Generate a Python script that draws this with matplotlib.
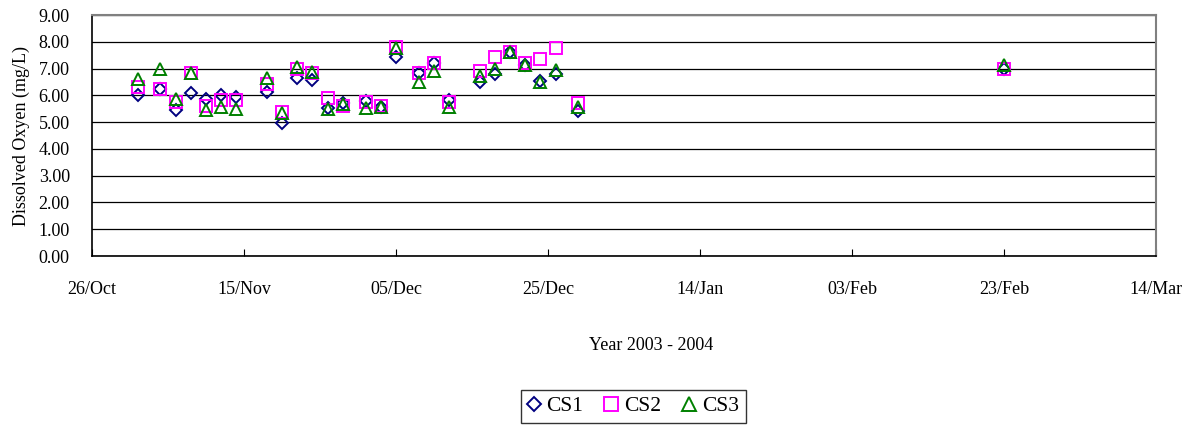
import numpy as np
import matplotlib
matplotlib.use("Agg")
import matplotlib.pyplot as plt
import matplotlib.dates as mdates
from datetime import datetime, timedelta

plt.rcParams['font.family'] = ['Liberation Serif', 'DejaVu Serif']

# sampling dates (2003 - 2004)
dates = ["2003-11-01", "2003-11-04", "2003-11-06", "2003-11-08", "2003-11-10",
         "2003-11-12", "2003-11-14", "2003-11-18", "2003-11-20", "2003-11-22",
         "2003-11-24", "2003-11-26", "2003-11-28", "2003-12-01", "2003-12-03",
         "2003-12-05", "2003-12-08", "2003-12-10", "2003-12-12", "2003-12-16",
         "2003-12-18", "2003-12-20", "2003-12-22", "2003-12-24", "2003-12-26",
         "2003-12-29", "2004-02-23"]

cs1 = [6.00, 6.22, 5.47, 6.08, 5.86, 6.01, 5.95, 6.12, 4.97, 6.65, 6.58, 5.51,
       5.70, 5.80, 5.57, 7.45, 6.85, 7.22, 5.82, 6.48, 6.78, 7.63, 7.13, 6.55,
       6.80, 5.43, 6.97]
cs2 = [6.32, 6.22, 5.76, 6.85, 5.62, 5.82, 5.82, 6.42, 5.37, 6.98, 6.85, 5.89,
       5.62, 5.75, 5.60, 7.82, 6.85, 7.22, 5.76, 6.92, 7.44, 7.63, 7.19, 7.34,
       7.76, 5.70, 7.00]
cs3 = [6.60, 6.98, 5.85, 6.85, 5.45, 5.57, 5.48, 6.63, 5.35, 7.05, 6.88, 5.50,
       5.67, 5.52, 5.55, 7.75, 6.50, 6.92, 5.57, 6.72, 7.00, 7.60, 7.13, 6.50,
       6.95, 5.55, 7.15]

x = [datetime.strptime(d, "%Y-%m-%d") for d in dates]

fig = plt.figure(figsize=(11.97, 4.25), dpi=100)
ax = fig.add_axes([0.0769, 0.3976, 0.8888, 0.5671])

ax.plot(x, cs1, linestyle='none', marker='D', markersize=6.5, mfc='none',
        mec='#000080', mew=1.4, label='CS1', zorder=3)
ax.plot(x, cs2, linestyle='none', marker='s', markersize=9, mfc='none',
        mec='#FF00FF', mew=1.4, label='CS2', zorder=3)
ax.plot(x, cs3, linestyle='none', marker='^', markersize=9, mfc='none',
        mec='#008000', mew=1.4, label='CS3', zorder=4)

start = datetime(2003, 10, 26)
ax.set_xlim(start, datetime(2004, 3, 14))
ax.set_xticks([start + timedelta(days=20 * i) for i in range(8)])
ax.xaxis.set_major_formatter(mdates.DateFormatter('%d/%b'))
ax.set_ylim(0, 9)
ax.set_yticks(np.arange(0, 9.01, 1))
ax.set_yticklabels(['%.2f' % v for v in np.arange(0, 9.01, 1)])

ax.yaxis.grid(True, color='black', linewidth=0.9)
ax.set_axisbelow(True)
for s in ['top', 'right']:
    ax.spines[s].set_color('#808080')
    ax.spines[s].set_linewidth(1.5)
for s in ['left', 'bottom']:
    ax.spines[s].set_color('black')
    ax.spines[s].set_linewidth(1.2)

ax.tick_params(axis='x', direction='in', length=5, pad=18, labelsize=13)
ax.tick_params(axis='y', direction='out', length=0, pad=16, labelsize=13)

ax.set_ylabel('Dissolved Oxyen (mg/L)', fontsize=13, labelpad=6)
fig.text(0.544, 0.187, 'Year 2003 - 2004', ha='center', va='center', fontsize=13)

fig.legend(loc='center', bbox_to_anchor=(0.529, 0.044), ncol=3, fontsize=15.5,
           frameon=True, fancybox=False, edgecolor='black', handlelength=0.6,
           handletextpad=0.3, columnspacing=1.0, borderpad=0.3,
           markerscale=1.1)

fig.savefig('out.png', dpi=100)
